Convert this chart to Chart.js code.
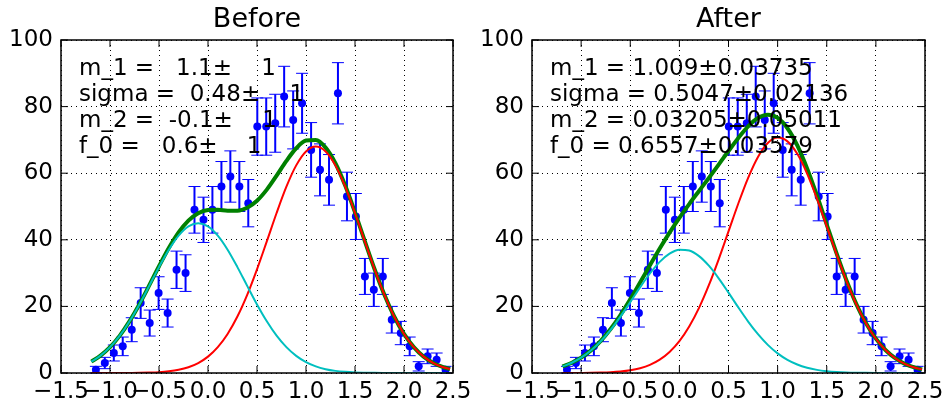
<!DOCTYPE html>
<html>
<head>
<meta charset="utf-8">
<script src="https://cdn.jsdelivr.net/npm/chart.js@4.4.0/dist/chart.umd.min.js"></script>
<style>
  body { margin: 0; background: #fff; }
  #wrap { position: relative; width: 944px; height: 405px; }
  canvas { position: absolute; top: 0; }
</style>
</head>
<body>
<div id="wrap">
  <canvas id="before" width="472" height="405" style="left:0"></canvas>
  <canvas id="after" width="472" height="405" style="left:472px"></canvas>
</div>
<script>
// histogram (same in both panels)
const binX = [-1.144, -1.053, -0.961, -0.870, -0.778, -0.687, -0.595, -0.504, -0.412, -0.321,
              -0.229, -0.138, -0.046, 0.045, 0.137, 0.228, 0.320, 0.411, 0.503, 0.594,
              0.686, 0.777, 0.869, 0.960, 1.052, 1.143, 1.235, 1.326, 1.418, 1.509,
              1.601, 1.692, 1.784, 1.875, 1.967, 2.058, 2.150, 2.241, 2.333, 2.424]
const counts = [1, 3, 6, 8, 13, 21, 15, 24, 18, 31,
                30, 49, 46, 49, 56, 59, 56, 51, 74, 74,
                75, 83, 76, 81, 67, 61, 58, 84, 53, 47,
                29, 25, 29, 16, 12, 8, 2, 5, 4, 1]
const countErr = [1.0, 1.7, 2.4, 2.8, 3.6, 4.6, 3.9, 4.9, 4.2, 5.6,
                  5.5, 7.0, 6.8, 7.0, 7.5, 7.7, 7.5, 7.1, 8.6, 8.6,
                  8.7, 9.1, 8.7, 9.0, 8.2, 7.8, 7.6, 9.2, 7.3, 6.9,
                  5.4, 5.0, 5.4, 4.0, 3.5, 2.8, 1.4, 2.2, 2.0, 1.0]

// fitted curves, read along x
const curveX = [-1.19, -1.1, -1.0, -0.9, -0.8, -0.7, -0.6, -0.5, -0.4, -0.3, -0.2, -0.1,
                0.0, 0.1, 0.2, 0.3, 0.4, 0.5, 0.6, 0.7, 0.8, 0.9, 1.0,
                1.1, 1.2, 1.3, 1.4, 1.5, 1.6, 1.7, 1.8, 1.9, 2.0, 2.1, 2.2, 2.3, 2.4, 2.47]

const beforeTotal = [3.42, 5.14, 7.76, 11.23, 15.57, 20.66, 26.29, 32.06, 37.54, 42.23, 45.77, 47.99,
                     48.95, 49.02, 48.75, 48.76, 49.64, 51.73, 55.07, 59.27, 63.70, 67.49, 69.80,
                     69.98, 67.69, 62.99, 56.28, 48.22, 39.62, 31.17, 23.50, 16.97, 11.73, 7.76, 4.92, 2.99, 1.74, 1.16]
const beforeSig = [0.00, 0.00, 0.01, 0.01, 0.03, 0.06, 0.13, 0.26, 0.52, 0.97, 1.74, 2.99,
                   4.92, 7.76, 11.73, 16.96, 23.48, 31.13, 39.53, 48.05, 55.94, 62.35, 66.54,
                   68.00, 66.54, 62.35, 55.94, 48.05, 39.53, 31.13, 23.48, 16.96, 11.73, 7.76, 4.92, 2.99, 1.74, 1.16]
const beforeBkg = [3.42, 5.14, 7.76, 11.22, 15.54, 20.60, 26.16, 31.80, 37.02, 41.26, 44.03, 45.00,
                   44.03, 41.26, 37.02, 31.80, 26.16, 20.60, 15.54, 11.22, 7.76, 5.14, 3.26,
                   1.98, 1.15, 0.64, 0.34, 0.17, 0.09, 0.04, 0.02, 0.01, 0.00, 0.00, 0.00, 0.00, 0.00, 0.00]

const afterTotal = [1.99, 3.01, 4.62, 6.80, 9.65, 13.19, 17.38, 22.10, 27.16, 32.33, 37.39, 42.17,
                    46.61, 50.73, 54.66, 58.58, 62.58, 66.66, 70.60, 74.07, 76.55, 77.52, 76.59,
                    73.51, 68.36, 61.45, 53.31, 44.58, 35.92, 27.85, 20.78, 14.92, 10.31, 6.84, 4.37, 2.68, 1.59, 1.07]
const afterSig = [0.01, 0.01, 0.03, 0.06, 0.12, 0.23, 0.44, 0.81, 1.44, 2.45, 4.01, 6.32,
                  9.58, 13.97, 19.56, 26.36, 34.14, 42.52, 50.91, 58.62, 64.89, 69.07, 70.69,
                  69.56, 65.81, 59.87, 52.37, 44.04, 35.62, 27.69, 20.70, 14.88, 10.29, 6.83, 4.37, 2.68, 1.59, 1.07]
const afterBkg = [1.98, 3.00, 4.59, 6.74, 9.53, 12.96, 16.94, 21.29, 25.72, 29.88, 33.38, 35.85,
                  37.03, 36.76, 35.10, 32.22, 28.44, 24.14, 19.69, 15.45, 11.66, 8.45, 5.90,
                  3.95, 2.55, 1.58, 0.94, 0.54, 0.30, 0.16, 0.08, 0.04, 0.02, 0.01, 0.00, 0.00, 0.00, 0.00]

const xTicks = [-1.5, -1.0, -0.5, 0.0, 0.5, 1.0, 1.5, 2.0, 2.5]
const xTickLabels = ['\u22121.5', '\u22121.0', '\u22120.5', '0.0', '0.5', '1.0', '1.5', '2.0', '2.5']
const yTicks = [0, 20, 40, 60, 80, 100]
const yTickLabels = ['0', '20', '40', '60', '80', '100']

const beforeText = ['m_1 =   1.1\u00b1    1', 'sigma =  0.48\u00b1    1', 'm_2 =  -0.1\u00b1    1', 'f_0 =   0.6\u00b1    1']
const afterText = ['m_1 = 1.009\u00b10.03735', 'sigma = 0.5047\u00b10.02136', 'm_2 = 0.03205\u00b10.05011', 'f_0 = 0.6557\u00b10.03579']

Chart.defaults.font.family = '"DejaVu Sans"'
Chart.defaults.color = '#000'

const pts = arr => curveX.map((x, i) => ({ x: x, y: arr[i] }))

// error bars, frame, inward ticks and the fit results
const decor = {
    id: 'decor',
    beforeDatasetsDraw(chart) {
        const ctx = chart.ctx
        const sx = chart.scales.x, sy = chart.scales.y
        ctx.save()
        ctx.strokeStyle = '#0000ff'
        binX.forEach((bx, i) => {
            const px = sx.getPixelForValue(bx)
            const top = sy.getPixelForValue(counts[i] + countErr[i])
            const bot = sy.getPixelForValue(counts[i] - countErr[i])
            ctx.lineWidth = 2
            ctx.beginPath()
            ctx.moveTo(px, top)
            ctx.lineTo(px, bot)
            ctx.stroke()
            ctx.lineWidth = 1
            ctx.beginPath()
            ctx.moveTo(px - 6, top); ctx.lineTo(px + 6, top)
            ctx.moveTo(px - 6, bot); ctx.lineTo(px + 6, bot)
            ctx.stroke()
        })
        ctx.restore()
    },
    afterDraw(chart) {
        const ctx = chart.ctx
        const a = chart.chartArea
        const sx = chart.scales.x, sy = chart.scales.y
        ctx.save()
        ctx.strokeStyle = '#000'
        ctx.lineWidth = 1
        ctx.beginPath()
        xTicks.forEach(v => {
            const px = sx.getPixelForValue(v)
            ctx.moveTo(px, a.bottom); ctx.lineTo(px, a.bottom - 7)
            ctx.moveTo(px, a.top); ctx.lineTo(px, a.top + 7)
        })
        yTicks.forEach(v => {
            const py = sy.getPixelForValue(v)
            ctx.moveTo(a.left, py); ctx.lineTo(a.left + 7, py)
            ctx.moveTo(a.right, py); ctx.lineTo(a.right - 7, py)
        })
        ctx.stroke()
        ctx.lineWidth = 1.5
        ctx.strokeRect(a.left, a.top, a.right - a.left, a.bottom - a.top)

        const lines = chart.options.plugins.decor.lines
        ctx.fillStyle = '#000'
        ctx.font = '23px "DejaVu Sans"'
        ctx.textBaseline = 'alphabetic'
        ctx.textAlign = 'left'
        lines.forEach((t, i) => ctx.fillText(t, a.left + 18, a.top + 35 + i * 26))
        ctx.restore()
    }
}

function panel(id, title, total, sig, bkg, lines, yWidth) {
    new Chart(document.getElementById(id), {
        type: 'scatter',
        data: {
            datasets: [
                { data: pts(bkg), showLine: true, borderColor: '#00bfbf', borderWidth: 2, pointRadius: 0, cubicInterpolationMode: 'monotone', order: 1 },
                { data: pts(sig), showLine: true, borderColor: '#ff0000', borderWidth: 2, pointRadius: 0, cubicInterpolationMode: 'monotone', order: 2 },
                { data: pts(total), showLine: true, borderColor: '#008000', borderWidth: 4, pointRadius: 0, cubicInterpolationMode: 'monotone', order: 3 },
                { data: binX.map((x, i) => ({ x: x, y: counts[i] })), pointRadius: 4, pointBackgroundColor: '#0000ff', pointBorderWidth: 0, order: 4 }
            ]
        },
        options: {
            responsive: false,
            animation: false,
            devicePixelRatio: 1,
            layout: { padding: { left: 0, right: 19, top: 0, bottom: 0 } },
            plugins: {
                legend: { display: false },
                tooltip: { enabled: false },
                title: {
                    display: true,
                    text: title,
                    fullSize: false,
                    color: '#000',
                    font: { size: 27, weight: 'normal' },
                    padding: { top: 4, bottom: 3.6 }
                },
                decor: { lines: lines }
            },
            scales: {
                x: {
                    type: 'linear',
                    min: -1.5,
                    max: 2.5,
                    afterBuildTicks: s => { s.ticks = xTicks.map(v => ({ value: v })) },
                    afterFit: s => { s.height = 32; s.paddingLeft = 0; s.paddingRight = 0 },
                    ticks: {
                        autoSkip: false,
                        maxRotation: 0,
                        minRotation: 0,
                        padding: 5,
                        font: { size: 23 },
                        callback: (v, i) => xTickLabels[i]
                    },
                    grid: { color: '#000', lineWidth: 1, drawTicks: false },
                    border: { display: false, dash: [1, 4] }
                },
                y: {
                    min: 0,
                    max: 100,
                    afterBuildTicks: s => { s.ticks = yTicks.map(v => ({ value: v })) },
                    afterFit: s => { s.width = yWidth; s.paddingTop = 0; s.paddingBottom = 0 },
                    ticks: {
                        padding: 8,
                        font: { size: 23 },
                        callback: (v, i) => yTickLabels[i]
                    },
                    grid: { color: '#000', lineWidth: 1, drawTicks: false },
                    border: { display: false, dash: [1, 4] }
                }
            }
        },
        plugins: [decor]
    })
}

panel('before', 'Before', beforeTotal, beforeSig, beforeBkg, beforeText, 61)
panel('after', 'After', afterTotal, afterSig, afterBkg, afterText, 60)
</script>
</body>
</html>
